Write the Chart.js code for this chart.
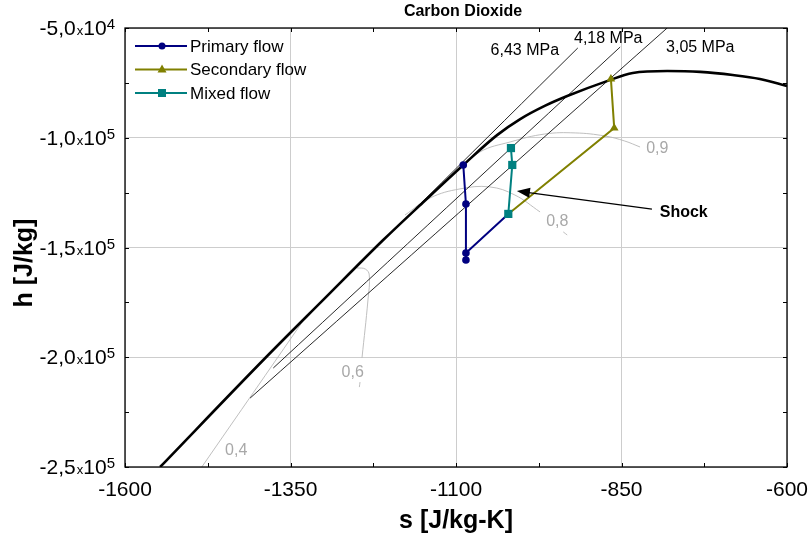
<!DOCTYPE html>
<html>
<head>
<meta charset="utf-8">
<script src="https://cdn.jsdelivr.net/npm/chart.js@4.4.1/dist/chart.umd.min.js"></script>
<style>
  html, body { margin: 0; padding: 0; background: #fff; }
</style>
</head>
<body>
<canvas id="chart" width="809" height="540"></canvas>
<script>
// saturation dome (s in J/kg-K, h in J/kg)
const satS = [-1547, -1387, -1301, -1210, -1150, -1089, -1038, -1003, -966, -932, -872, -833, -781, -731, -682, -641, -600];
const satH = [-250000, -200000, -174000, -146600, -129500, -112400, -98800, -91500, -85500, -81000, -74200, -70500, -69600, -70000, -71400, -73200, -76400];

// isobars
const iso643S = [-1328, -916];
const iso643H = [-182100, -59100];
const iso418S = [-1376, -852];
const iso418H = [-204900, -58660];
const iso305S = [-1411, -781];
const iso305H = [-218600, -50000];

// quality lines (null = gap behind the label)
const q4S = [-1484, -1328];
const q4H = [-250000, -182100];
const q6S = [-1250, -1237, -1231, -1233, -1242, null, -1245, -1246];
const q6H = [-159300, -159800, -162500, -173900, -200300, null, -211300, -213600];
const q8S = [-1177, -1139, -1094, -1049, -1011, -973, null, -938, -932];
const q8H = [-135200, -127400, -123300, -122400, -126100, -133800, null, -142900, -144300];
const q9S = [-1106, -1064, -1018, -966, -920, -875, -845, -822];
const q9H = [-117000, -106500, -101900, -98300, -97800, -99200, -101500, -104200];

// ejector states
const primS = [-1089, -1085, -1085, -1085, -1021];
const primH = [-112400, -130200, -155700, -152500, -134700];
const secS = [-866, -861, -1021];
const secH = [-73200, -95600, -134700];
const mixS = [-1021, -1015, -1017];
const mixH = [-134700, -112400, -104700];

// ticks
const xTicks = [-1600, -1350, -1100, -850, -600];
const yTicks = [-50000, -100000, -150000, -200000, -250000];
const yMant = ['-5,0', '-1,0', '-1,5', '-2,0', '-2,5'];
const yExp = ['4', '5', '5', '5', '5'];

const FONT = '"Liberation Sans", Arial, sans-serif';

function pts(S, H) {
  return S.map((s, i) => (s === null ? { x: null, y: null } : { x: s, y: H[i] }));
}

function thin(S, H, color, order) {
  return {
    data: pts(S, H), showLine: true, borderColor: color, borderWidth: 0.9,
    pointRadius: 0, tension: 0.4, order: order
  };
}

const overlay = {
  id: 'overlay',
  afterDraw(chart) {
    const { ctx, chartArea: a, scales: { x, y } } = chart;
    ctx.save();

    // frame
    ctx.strokeStyle = '#000';
    ctx.lineWidth = 1.3;
    ctx.strokeRect(a.left, a.top, a.right - a.left, a.bottom - a.top);

    // inward tick marks
    ctx.lineWidth = 1;
    ctx.beginPath();
    for (let v = -1600; v <= -600; v += 125) {
      const px = Math.round(x.getPixelForValue(v)) + 0.5;
      ctx.moveTo(px, a.bottom); ctx.lineTo(px, a.bottom - 4);
      ctx.moveTo(px, a.top); ctx.lineTo(px, a.top + 4);
    }
    for (let v = -250000; v <= -50000; v += 25000) {
      const py = Math.round(y.getPixelForValue(v)) + 0.5;
      ctx.moveTo(a.left, py); ctx.lineTo(a.left + 4, py);
      ctx.moveTo(a.right, py); ctx.lineTo(a.right - 4, py);
    }
    ctx.stroke();

    ctx.fillStyle = '#000';
    // x tick labels
    ctx.font = '21px ' + FONT;
    ctx.textAlign = 'center';
    ctx.textBaseline = 'middle';
    xTicks.forEach(v => ctx.fillText(String(v), x.getPixelForValue(v), a.bottom + 23));

    // y tick labels: mantissa x 10^exp
    ctx.textBaseline = 'alphabetic';
    ctx.textAlign = 'left';
    yTicks.forEach((v, i) => {
      const py = y.getPixelForValue(v);
      ctx.font = '21px ' + FONT;
      const wm = ctx.measureText(yMant[i]).width;
      const w10 = ctx.measureText('10').width;
      ctx.font = '13px ' + FONT;
      const wx = ctx.measureText('x').width;
      ctx.font = '15px ' + FONT;
      const we = ctx.measureText(yExp[i]).width;
      let cx = 115 - (wm + 1 + wx + w10 + we);
      ctx.font = '21px ' + FONT;
      ctx.fillText(yMant[i], cx, py + 7); cx += wm + 1;
      ctx.font = '13px ' + FONT;
      ctx.fillText('x', cx, py + 7); cx += wx;
      ctx.font = '21px ' + FONT;
      ctx.fillText('10', cx, py + 7); cx += w10;
      ctx.font = '15px ' + FONT;
      ctx.fillText(yExp[i], cx, py + 1);
    });

    // axis titles
    ctx.font = 'bold 25px ' + FONT;
    ctx.textAlign = 'center';
    ctx.textBaseline = 'middle';
    ctx.fillText('s [J/kg-K]', (a.left + a.right) / 2, 521);
    ctx.save();
    ctx.translate(25, 263);
    ctx.rotate(-Math.PI / 2);
    ctx.fillText('h [J/kg]', 0, 0);
    ctx.restore();

    // chart title
    ctx.font = 'bold 16px ' + FONT;
    ctx.fillText('Carbon Dioxide', 463, 12);

    // isobar labels
    ctx.font = '16px ' + FONT;
    const lab = (t, s, h) => ctx.fillText(t, x.getPixelForValue(s), y.getPixelForValue(h));
    lab('6,43 MPa', -996, -60500);
    lab('4,18 MPa', -870, -55000);
    lab('3,05 MPa', -731, -58700);

    // quality labels
    ctx.fillStyle = '#a8a8a8';
    lab('0,9', -796, -105100);
    lab('0,8', -947, -138400);
    lab('0,6', -1256, -207200);
    lab('0,4', -1432, -242700);

    // shock arrow
    ctx.fillStyle = '#000';
    ctx.font = 'bold 16px ' + FONT;
    lab('Shock', -756, -134300);
    const x0 = x.getPixelForValue(-804), y0 = y.getPixelForValue(-132500);
    const x1 = x.getPixelForValue(-1008), y1 = y.getPixelForValue(-124300);
    const ang = Math.atan2(y1 - y0, x1 - x0);
    ctx.strokeStyle = '#000';
    ctx.lineWidth = 1.1;
    ctx.beginPath();
    ctx.moveTo(x0, y0);
    ctx.lineTo(x1 - 10 * Math.cos(ang), y1 - 10 * Math.sin(ang));
    ctx.stroke();
    ctx.beginPath();
    ctx.moveTo(x1, y1);
    ctx.lineTo(x1 - 13 * Math.cos(ang) + 5 * Math.sin(ang), y1 - 13 * Math.sin(ang) - 5 * Math.cos(ang));
    ctx.lineTo(x1 - 13 * Math.cos(ang) - 5 * Math.sin(ang), y1 - 13 * Math.sin(ang) + 5 * Math.cos(ang));
    ctx.closePath();
    ctx.fill();

    // legend
    const items = [
      { t: 'Primary flow', c: '#000080', m: 'circle' },
      { t: 'Secondary flow', c: '#808000', m: 'triangle' },
      { t: 'Mixed flow', c: '#008080', m: 'rect' }
    ];
    ctx.font = '17px ' + FONT;
    ctx.textAlign = 'left';
    items.forEach((it, i) => {
      const ly = 46 + i * 23.5;
      ctx.strokeStyle = it.c;
      ctx.fillStyle = it.c;
      ctx.lineWidth = 1.8;
      ctx.beginPath();
      ctx.moveTo(135, ly); ctx.lineTo(187, ly);
      ctx.stroke();
      ctx.beginPath();
      if (it.m === 'circle') ctx.arc(162, ly, 3.5, 0, Math.PI * 2);
      else if (it.m === 'triangle') { ctx.moveTo(162, ly - 5); ctx.lineTo(166.5, ly + 3); ctx.lineTo(157.5, ly + 3); ctx.closePath(); }
      else ctx.rect(158, ly - 4, 8, 8);
      ctx.fill();
      ctx.fillStyle = '#000';
      ctx.fillText(it.t, 190, ly + 1);
    });

    ctx.restore();
  }
};

const datasets = [
  {
    label: 'Mixed flow', data: pts(mixS, mixH), showLine: true,
    borderColor: '#008080', backgroundColor: '#008080', borderWidth: 2,
    pointStyle: 'rect', pointRadius: 5.8, pointBorderWidth: 0, order: 0
  },
  {
    label: 'Primary flow', data: pts(primS, primH), showLine: true,
    borderColor: '#000080', backgroundColor: '#000080', borderWidth: 2,
    pointStyle: 'circle', pointRadius: [3.8, 3.8, 3.8, 3.8, 0], pointBorderWidth: 0, order: 1
  },
  {
    label: 'Secondary flow', data: pts(secS, secH), showLine: true,
    borderColor: '#808000', backgroundColor: '#808000', borderWidth: 2,
    pointStyle: 'triangle', pointRadius: [5, 5, 0], pointBorderWidth: 0, order: 2
  },
  {
    label: 'saturation', data: pts(satS, satH), showLine: true,
    borderColor: '#000', borderWidth: 2.6, pointRadius: 0,
    cubicInterpolationMode: 'monotone', order: 5
  },
  thin(iso643S, iso643H, '#111', 6),
  thin(iso418S, iso418H, '#111', 6),
  thin(iso305S, iso305H, '#111', 6),
  thin(q4S, q4H, '#b8b8b8', 7),
  thin(q6S, q6H, '#b8b8b8', 7),
  thin(q8S, q8H, '#b8b8b8', 7),
  thin(q9S, q9H, '#b8b8b8', 7)
];

new Chart(document.getElementById('chart').getContext('2d'), {
  type: 'scatter',
  data: { datasets: datasets },
  options: {
    responsive: false,
    animation: false,
    layout: { padding: { left: 125, top: 28, right: 22, bottom: 73 } },
    plugins: {
      legend: { display: false },
      tooltip: { enabled: false },
      title: { display: false }
    },
    scales: {
      x: {
        type: 'linear', min: -1600, max: -600,
        ticks: { display: false, stepSize: 125 },
        grid: {
          drawTicks: false, lineWidth: 1,
          color: c => (c.tick && (c.tick.value + 1600) % 250 === 0 ? '#cdcdcd' : 'rgba(0,0,0,0)')
        },
        border: { display: false }
      },
      y: {
        type: 'linear', min: -250000, max: -50000,
        ticks: { display: false, stepSize: 25000 },
        grid: {
          drawTicks: false, lineWidth: 1,
          color: c => (c.tick && c.tick.value % 50000 === 0 ? '#cdcdcd' : 'rgba(0,0,0,0)')
        },
        border: { display: false }
      }
    }
  },
  plugins: [overlay]
});
</script>
</body>
</html>
